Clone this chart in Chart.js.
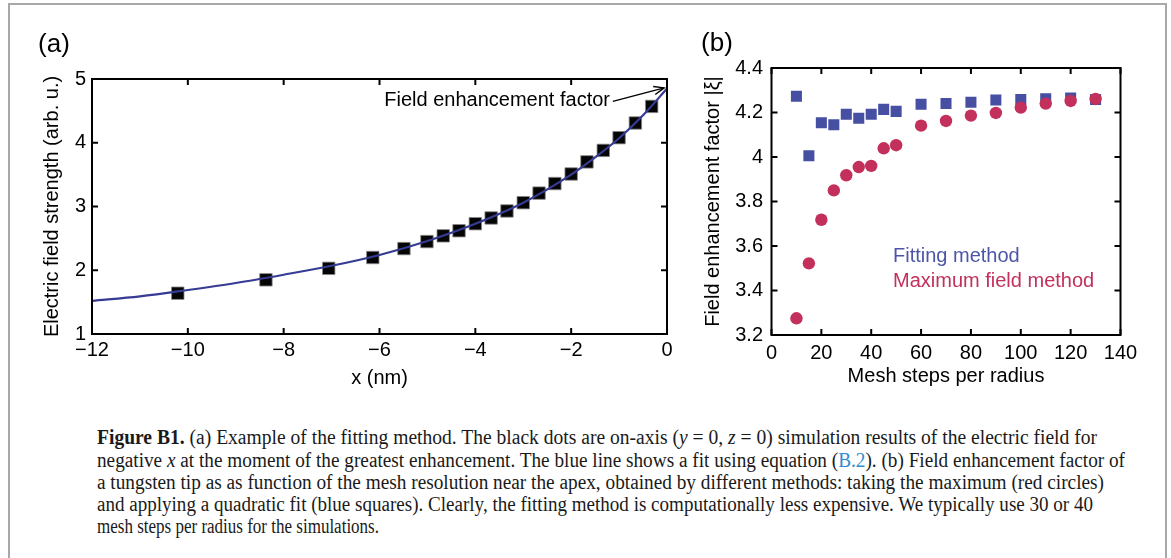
<!DOCTYPE html>
<html><head><meta charset="utf-8">
<script src="https://cdn.jsdelivr.net/npm/chart.js@4.4.0/dist/chart.umd.min.js"></script>
<style>
html,body{margin:0;padding:0;background:#fff;}
body{width:1171px;height:558px;overflow:hidden;position:relative;font-family:"Liberation Sans",Arial,sans-serif;}
#frame{position:absolute;left:8px;top:3px;width:1159px;height:700px;border:2px solid #a8a8a8;box-sizing:border-box;}
#wa{position:absolute;left:0;top:0;width:700px;height:400px;}
#wb{position:absolute;left:690px;top:0;width:481px;height:400px;}
.plab{position:absolute;font-size:26px;line-height:26px;color:#000;transform:translate(-50%,-50%);}
.leg{position:absolute;font-size:20px;line-height:24px;transform:translateY(-50%);white-space:nowrap;}
.cap{position:absolute;left:97px;font-family:"Liberation Serif","Times New Roman",serif;font-size:20px;line-height:22px;white-space:nowrap;color:#1a1a1a;transform-origin:0 50%;}
.cap i{font-style:italic;}
.lnk{color:#2e8ccf;}
</style></head>
<body>
<div id="frame"></div>
<div id="wa"><canvas id="ca" width="700" height="400"></canvas></div>
<div id="wb"><canvas id="cb" width="481" height="400"></canvas></div>
<div class="plab" style="left:54px;top:43px">(a)</div>
<div class="plab" style="left:717px;top:42px">(b)</div>
<div class="leg" style="left:893px;top:255px;color:#4d55a8">Fitting method</div>
<div class="leg" style="left:893px;top:280px;color:#c2305b">Maximum field method</div>

<div class="cap" data-w="1000" style="top:426px"><b>Figure B1.</b> (a) Example of the fitting method. The black dots are on-axis (<i>y</i> = 0, <i>z</i> = 0) simulation results of the electric field for</div>
<div class="cap" data-w="1028" style="top:449px">negative <i>x</i> at the moment of the greatest enhancement. The blue line shows a fit using equation (<span class="lnk">B.2</span>). (b) Field enhancement factor of</div>
<div class="cap" data-w="1007" style="top:471px">a tungsten tip as as function of the mesh resolution near the apex, obtained by different methods: taking the maximum (red circles)</div>
<div class="cap" data-w="996" style="top:493px">and applying a quadratic fit (blue squares). Clearly, the fitting method is computationally less expensive. We typically use 30 or 40</div>
<div class="cap" data-w="282" style="top:515px">mesh steps per radius for the simulations.</div>

<script>
// ---- Data (a) ----
const simX = [-10.21,-8.37,-7.06,-6.14,-5.49,-5.01,-4.67,-4.34,-4.00,-3.67,-3.34,-3.00,-2.67,-2.34,-2.00,-1.67,-1.33,-1.00,-0.66,-0.32];
const simY = [1.64,1.85,2.03,2.20,2.34,2.45,2.54,2.62,2.73,2.82,2.93,3.06,3.21,3.36,3.51,3.70,3.88,4.08,4.31,4.57];
const fitX = [-12,-11,-10,-9,-8,-7,-6,-5,-4,-3,-2,-1.5,-1,-0.5,0];
const fitY = [1.52,1.59,1.69,1.80,1.93,2.07,2.24,2.46,2.73,3.06,3.50,3.77,4.07,4.43,4.85];
const xTicksA = [-12,-10,-8,-6,-4,-2,0];
const yTicksA = [1,2,3,4,5];
const annotText = 'Field enhancement factor';

// ---- Data (b) ----
const meshSteps = [10,15,20,25,30,35,40,45,50,60,70,80,90,100,110,120,130];
const fittingMethod = [4.273,4.006,4.154,4.145,4.192,4.174,4.192,4.214,4.205,4.237,4.240,4.246,4.256,4.258,4.262,4.265,4.258];
const maxFieldMethod = [3.275,3.522,3.718,3.850,3.918,3.955,3.960,4.039,4.053,4.141,4.162,4.186,4.198,4.222,4.240,4.252,4.261];
const xTicksB = [0,20,40,60,80,100,120,140];
const yTicksB = [3.2,3.4,3.6,3.8,4.0,4.2,4.4];

const FONT = '"Liberation Sans", Arial, sans-serif';
Chart.defaults.font.family = FONT;
Chart.defaults.color = '#000';

const boxTicks = {
  id:'boxTicks',
  afterDatasetsDraw(chart){
    const {ctx, chartArea:a, scales:{x,y}} = chart;
    ctx.save();
    ctx.strokeStyle='#000'; ctx.lineWidth=2;
    const L=6;
    ctx.beginPath();
    x.ticks.forEach(t=>{const p=x.getPixelForValue(t.value);
      ctx.moveTo(p,a.bottom); ctx.lineTo(p,a.bottom-L);
      ctx.moveTo(p,a.top); ctx.lineTo(p,a.top+L);});
    y.ticks.forEach(t=>{const p=y.getPixelForValue(t.value);
      ctx.moveTo(a.left,p); ctx.lineTo(a.left+L,p);
      ctx.moveTo(a.right,p); ctx.lineTo(a.right-L,p);});
    ctx.stroke();
    ctx.strokeRect(a.left,a.top,a.right-a.left,a.bottom-a.top);
    ctx.restore();
  }
};

const annot = {
  id:'annot',
  afterDatasetsDraw(chart){
    const {ctx, scales:{x,y}} = chart;
    ctx.save();
    ctx.font = '20px ' + FONT;
    ctx.fillStyle='#000'; ctx.textAlign='right'; ctx.textBaseline='middle';
    ctx.fillText(annotText, x.getPixelForValue(-1.19), y.getPixelForValue(4.66));
    const x0=x.getPixelForValue(-1.13), y0=y.getPixelForValue(4.65);
    const x1=x.getPixelForValue(-0.06), y1=y.getPixelForValue(4.86);
    ctx.strokeStyle='#000'; ctx.lineWidth=1.4;
    ctx.beginPath(); ctx.moveTo(x0,y0); ctx.lineTo(x1,y1); ctx.stroke();
    const ang=Math.atan2(y1-y0,x1-x0), h=11, w=0.38;
    ctx.beginPath();
    ctx.moveTo(x1-h*Math.cos(ang-w), y1-h*Math.sin(ang-w));
    ctx.lineTo(x1,y1);
    ctx.lineTo(x1-h*Math.cos(ang+w), y1-h*Math.sin(ang+w));
    ctx.stroke();
    ctx.restore();
  }
};

const minus = v => String(v).replace('-', '\u2212');

new Chart(document.getElementById('ca'), {
  type:'scatter',
  data:{datasets:[
    {label:'fit', data: fitX.map((v,i)=>({x:v,y:fitY[i]})), showLine:true, pointRadius:0,
     borderColor:'#363b93', borderWidth:2.2, cubicInterpolationMode:'monotone', order:0},
    {label:'sim', data: simX.map((v,i)=>({x:v,y:simY[i]})), pointStyle:'rect', pointRadius:8.8,
     backgroundColor:'#050505', borderColor:'#8a8a8a', borderWidth:0.8, order:1}
  ]},
  options:{
    responsive:false, animation:false, events:[],
    layout:{padding:{left:38,right:33,top:79,bottom:6}},
    plugins:{legend:{display:false}, tooltip:{enabled:false}},
    scales:{
      x:{type:'linear', min:-12, max:0,
         afterBuildTicks: s => { s.ticks = xTicksA.map(v=>({value:v})); },
         ticks:{padding:4.5, font:{size:20}, maxRotation:0, autoSkip:false, callback: minus},
         grid:{display:false, drawTicks:false}, border:{display:false},
         title:{display:true, text:'x (nm)', font:{size:20}, padding:{top:0,bottom:4}},
         afterFit: s => { s.height = 60; }},
      y:{type:'linear', min:1, max:5,
         afterBuildTicks: s => { s.ticks = yTicksA.map(v=>({value:v})); },
         ticks:{padding:6, font:{size:20}},
         grid:{display:false, drawTicks:false}, border:{display:false},
         title:{display:true, text:'Electric field strength (arb. u.)', font:{size:20}, padding:{top:2,bottom:0}},
         afterFit: s => { s.width = 54; }}
    }
  },
  plugins:[boxTicks, annot]
});

new Chart(document.getElementById('cb'), {
  type:'scatter',
  data:{datasets:[
    {label:'Maximum field method', data: meshSteps.map((v,i)=>({x:v,y:maxFieldMethod[i]})), pointStyle:'circle', pointRadius:6.2,
     backgroundColor:'#c2305b', borderColor:'#c2305b', borderWidth:0, order:0},
    {label:'Fitting method', data: meshSteps.map((v,i)=>({x:v,y:fittingMethod[i]})), pointStyle:'rect', pointRadius:7.8,
     backgroundColor:'#464fa2', borderColor:'#464fa2', borderWidth:0, order:1}
  ]},
  options:{
    responsive:false, animation:false, events:[],
    layout:{padding:{left:9.5,right:50.5,top:68,bottom:6}},
    plugins:{legend:{display:false}, tooltip:{enabled:false}},
    scales:{
      x:{type:'linear', min:0, max:140,
         afterBuildTicks: s => { s.ticks = xTicksB.map(v=>({value:v})); },
         ticks:{padding:6, font:{size:20}, maxRotation:0, autoSkip:false},
         grid:{display:false, drawTicks:false}, border:{display:false},
         title:{display:true, text:'Mesh steps per radius', font:{size:20}, padding:{top:0,bottom:5.3}},
         afterFit: s => { s.height = 59; }},
      y:{type:'linear', min:3.2, max:4.4,
         afterBuildTicks: s => { s.ticks = yTicksB.map(v=>({value:v})); },
         ticks:{padding:8.5, font:{size:20}, callback: v => String(+v.toFixed(1))},
         grid:{display:false, drawTicks:false}, border:{display:false},
         title:{display:true, text:'Field enhancement factor |\u03BE|', font:{size:20}, padding:{top:2,bottom:0}},
         afterFit: s => { s.width = 72; }}
    }
  },
  plugins:[boxTicks]
});

// caption: condense each line horizontally to the width it has in the figure
document.querySelectorAll('.cap').forEach(el=>{
  const w = el.getBoundingClientRect().width;
  el.style.transform = 'scaleX(' + ((+el.dataset.w) / w) + ')';
});
</script>
</body></html>
